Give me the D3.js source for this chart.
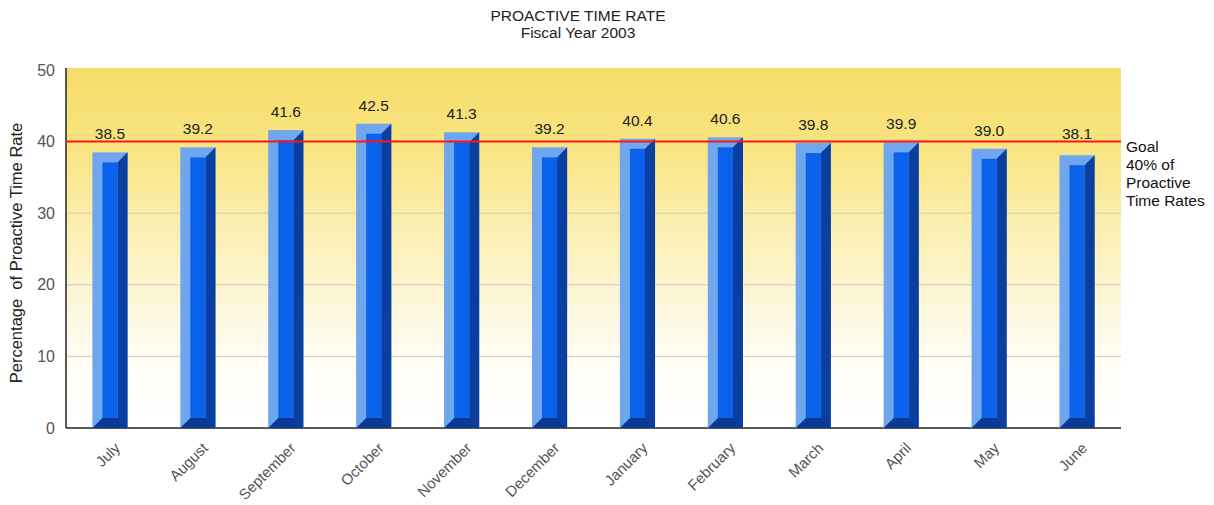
<!DOCTYPE html>
<html>
<head>
<meta charset="utf-8">
<script src="https://cdn.jsdelivr.net/npm/d3@7"></script>
<style>
  html, body { margin: 0; padding: 0; background: #ffffff; }
  svg { display: block; font-family: "Liberation Sans", Arial, sans-serif; }
</style>
</head>
<body>
<svg id="chart" width="1214" height="505"></svg>
<script>
// Monthly proactive time rate, fiscal year 2003
const months = ["July", "August", "September", "October", "November", "December",
                "January", "February", "March", "April", "May", "June"];
const rates = [38.5, 39.2, 41.6, 42.5, 41.3, 39.2, 40.4, 40.6, 39.8, 39.9, 39.0, 38.1];
const yTicks = [0, 10, 20, 30, 40, 50];
const goalValue = 40;
const goalLines = ["Goal", "40% of", "Proactive", "Time Rates"];
const titleLines = ["PROACTIVE TIME RATE", "Fiscal Year 2003"];
const yTitle = "Percentage  of Proactive Time Rate";

const svg = d3.select("#chart");
const plot = { left: 66, right: 1121, top: 70, bottom: 428 };

const x = d3.scaleBand().domain(months).range([plot.left, plot.right]).paddingInner(0.6).paddingOuter(0.3);
const y = d3.scaleLinear().domain([0, 50]).range([plot.bottom, plot.top]);

// Background gradient: yellow at the top fading to white
const defs = svg.append("defs");
const grad = defs.append("linearGradient").attr("id", "bg").attr("x1", 0).attr("y1", 0).attr("x2", 0).attr("y2", 1);
[["0%", "#f6dd6a"], ["20%", "#f8e37e"], ["45%", "#fbefb2"], ["70%", "#fdf8e2"], ["85%", "#fffefa"], ["100%", "#ffffff"]]
  .forEach(([o, c]) => grad.append("stop").attr("offset", o).attr("stop-color", c));

svg.append("rect")
  .attr("x", plot.left).attr("y", plot.top - 2)
  .attr("width", plot.right - plot.left).attr("height", plot.bottom - plot.top + 2)
  .attr("fill", "url(#bg)");

// Horizontal gridlines
svg.append("g").selectAll("line")
  .data(yTicks.filter(t => t > 0 && t < 50))
  .join("line")
  .attr("x1", plot.left).attr("x2", plot.right)
  .attr("y1", d => y(d)).attr("y2", d => y(d))
  .attr("stroke", "#cfcab8").attr("stroke-width", 1);

// Y axis
const yAxis = svg.append("g")
  .attr("transform", `translate(${plot.left},0)`)
  .call(d3.axisLeft(y).tickValues(yTicks).tickSize(0).tickPadding(11));
yAxis.select(".domain").attr("stroke", "#222").attr("stroke-width", 1.5)
  .attr("d", `M0,${plot.top - 2}V${plot.bottom}`);
yAxis.selectAll("text").attr("font-size", 16).attr("fill", "#555").attr("font-family", "Liberation Sans, Arial, sans-serif");

// X axis baseline
svg.append("line")
  .attr("x1", plot.left).attr("x2", plot.right)
  .attr("y1", plot.bottom).attr("y2", plot.bottom)
  .attr("stroke", "#222").attr("stroke-width", 1.5);

// Bars drawn as bevelled 3D columns
const bw = x.bandwidth();
const depth = bw * 0.286;
const data = months.map((m, i) => ({ m, v: rates[i] }));
const bars = svg.append("g").selectAll("g").data(data).join("g");

bars.each(function (d) {
  const g = d3.select(this);
  const x0 = x(d.m), x1 = x0 + bw;
  const top = y(d.v), bot = y(0);
  const fx0 = x0 + depth, fx1 = x1 - depth;
  // light outer body (top face and left edge)
  g.append("rect").attr("x", x0).attr("y", top).attr("width", bw).attr("height", bot - top).attr("fill", "#6fa6ee");
  // dark right side
  g.append("path").attr("d", `M${fx1},${top + depth}L${x1},${top}L${x1},${bot}L${fx1},${bot}Z`).attr("fill", "#0b3f9f");
  // bright front face
  g.append("rect").attr("x", fx0).attr("y", top + depth).attr("width", fx1 - fx0).attr("height", Math.max(0, bot - top - 2 * depth)).attr("fill", "#0a62ea");
  // dark base bevel
  g.append("path").attr("d", `M${x0},${bot}L${fx0},${bot - depth}L${fx1},${bot - depth}L${x1},${bot}Z`).attr("fill", "#0a3a94");
});

// Goal line
svg.append("line")
  .attr("x1", plot.left).attr("x2", plot.right)
  .attr("y1", y(goalValue)).attr("y2", y(goalValue))
  .attr("stroke", "#ff1414").attr("stroke-width", 2);

// Value labels (kept clear of the goal line)
svg.append("g").selectAll("text")
  .data(data)
  .join("text")
  .attr("x", d => x(d.m) + bw / 2)
  .attr("y", d => Math.min(y(d.v) - 13, y(goalValue) - 3))
  .attr("text-anchor", "middle")
  .attr("font-size", 15.5).attr("fill", "#222")
  .text(d => d.v.toFixed(1));

svg.append("text")
  .attr("x", plot.right + 5).attr("y", y(goalValue) + 10)
  .attr("font-size", 15.5).attr("fill", "#111")
  .selectAll("tspan").data(goalLines).join("tspan")
  .attr("x", plot.right + 5).attr("dy", (d, i) => i === 0 ? 0 : 18)
  .text(d => d);

// Month labels, rotated
svg.append("g").selectAll("text")
  .data(months).join("text")
  .attr("transform", d => `translate(${x(d) + bw / 2 + 11},${plot.bottom + 21}) rotate(-45)`)
  .attr("text-anchor", "end")
  .attr("font-size", 15).attr("fill", "#555")
  .text(d => d);

// Y axis title
svg.append("text")
  .attr("transform", `translate(22,${(plot.top + plot.bottom) / 2 + 4}) rotate(-90)`)
  .attr("text-anchor", "middle")
  .attr("font-size", 16.5).attr("fill", "#222")
  .attr("xml:space", "preserve")
  .style("white-space", "pre")
  .text(yTitle);

// Title
svg.append("g").selectAll("text")
  .data(titleLines).join("text")
  .attr("x", 578).attr("y", (d, i) => 21 + i * 17)
  .attr("text-anchor", "middle")
  .attr("font-size", 15.5).attr("fill", "#222")
  .text(d => d);
</script>
</body>
</html>
